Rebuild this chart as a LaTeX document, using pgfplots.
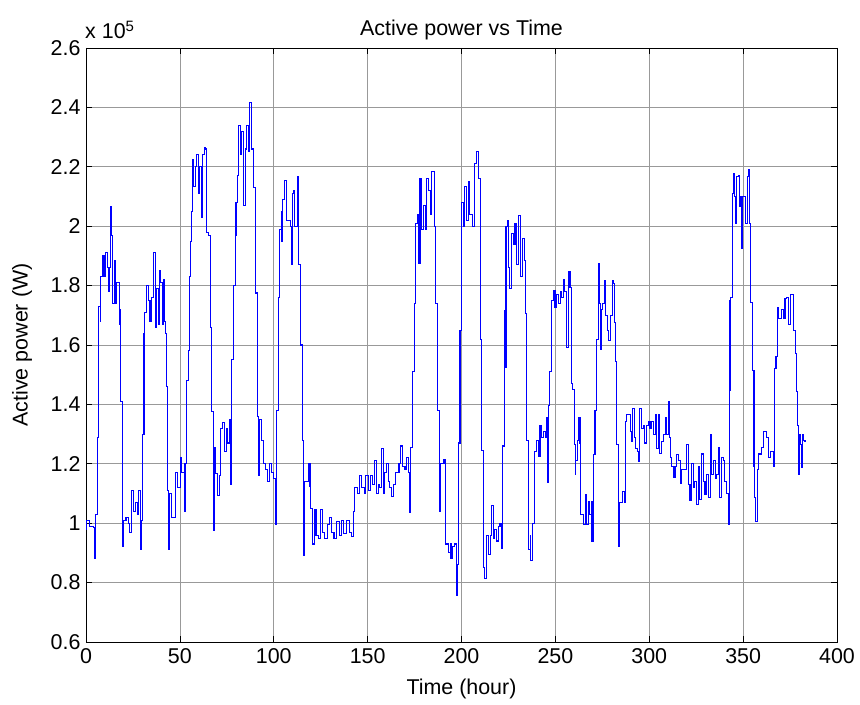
\documentclass[border=0pt]{standalone}
\usepackage{fontspec}
\setmainfont{Liberation Sans}
\usepackage{pgfplots}
\pgfplotsset{compat=1.18}
\pgfplotstableread{
x y
0.0 0.98
0.4 1.01
2.1 0.99
3.9 0.985
4.8 0.88
5.3 1.03
6.0 1.29
6.9 1.73
7.5 1.68
7.8 1.83
8.7 1.90
9.6 1.83
10.5 1.91
11.4 1.86
11.9 1.78
12.4 1.86
13.3 2.065
13.8 1.97
14.2 1.74
15.1 1.885
15.8 1.74
16.3 1.81
17.6 1.72
18.1 1.67
18.5 1.41
19.2 1.14
19.5 0.92
20.1 1.01
21.3 1.02
22.5 1.0
23.4 0.97
24.0 1.11
25.2 1.04
26.5 1.07
27.3 1.03
28.2 1.11
29.1 0.91
29.5 1.01
30.0 1.30
30.9 1.64
31.4 1.71
32.3 1.80
33.2 1.75
34.1 1.68
35.0 1.76
35.9 1.91
36.8 1.66
37.6 1.79
38.5 1.67
39.1 1.85
39.9 1.81
40.5 1.67
41.2 1.82
41.7 1.68
42.4 1.64
42.8 1.46
43.3 1.11
43.9 0.91
44.4 1.10
45.6 1.02
47.4 1.02
47.9 1.17
48.8 1.12
50.1 1.22
51.0 1.17
52.3 1.2
52.7 1.04
53.1 1.2
53.6 1.48
54.5 1.58
55.0 1.83
55.6 1.95
56.3 2.05
56.8 2.225
57.5 2.135
58.2 2.20
58.9 2.24
59.8 2.11
60.7 2.20
61.4 2.03
62.2 2.24
62.9 2.265
63.9 2.26
64.3 1.98
65.2 1.97
66.1 1.66
67.0 1.375
67.8 0.975
68.3 1.256
69.2 1.166
69.9 1.093
71.0 1.16
71.7 1.32
72.8 1.34
73.7 1.24
74.6 1.32
75.5 1.27
76.7 1.35
77.1 1.13
77.6 1.55
78.5 1.80
79.4 1.97
79.9 2.08
80.6 2.17
81.4 2.34
82.3 2.24
83.0 2.32
83.8 2.07
84.7 2.26
85.5 2.34
86.4 2.25
87.3 2.417
88.0 2.26
89.1 2.13
90.2 1.775
91.3 1.36
91.8 1.16
92.3 1.35
93.6 1.28
94.5 1.2
95.7 1.18
96.6 1.14
97.6 1.2
98.8 1.17
100.1 1.15
100.8 0.997
101.5 1.38
102.4 1.76
103.3 1.99
103.9 2.05
104.4 1.95
104.9 2.09
105.6 2.155
106.5 2.155
106.9 2.02
107.8 2.02
108.7 2.0
109.4 1.87
109.9 2.11
110.5 2.12
111.0 2.0
111.8 2.0
112.5 2.166
113.0 1.87
114.3 1.60
115.2 1.28
115.7 0.89
116.3 1.14
117.5 1.14
118.4 1.2
119.3 1.125
119.8 1.05
120.6 0.93
121.5 1.045
122.5 0.96
123.8 0.95
125.0 1.045
126.1 0.97
127.2 0.95
128.5 0.995
129.6 1.02
130.8 0.97
132.1 0.95
133.5 1.006
134.9 0.96
136.2 1.01
137.4 0.966
138.9 1.01
140.1 0.97
141.5 0.955
142.3 1.04
143.2 1.12
144.5 1.1
145.6 1.16
146.8 1.12
148.1 1.1
149.1 1.16
150.4 1.11
151.6 1.16
152.7 1.13
153.8 1.21
154.5 1.1
155.7 1.13
156.5 1.12
157.4 1.25
158.3 1.10
159.2 1.17
160.1 1.2
161.0 1.14
161.9 1.12
162.8 1.09
163.7 1.13
164.6 1.17
165.8 1.17
166.7 1.2
167.6 1.26
168.7 1.19
169.9 1.18
170.8 1.22
171.8 1.17
172.5 1.036
172.9 1.256
173.8 1.51
174.9 1.74
175.7 2.01
176.5 2.04
177.0 1.875
177.9 2.16
178.8 1.99
179.7 2.07
180.6 1.99
181.5 2.16
182.4 2.12
183.3 2.04
184.1 2.185
185.4 2.0
186.3 1.74
187.1 1.38
188.2 1.04
189.0 1.2
190.3 1.216
191.2 1.2
191.6 0.93
193.0 0.90
193.9 0.93
194.4 0.88
195.3 0.92
196.4 0.93
197.1 0.755
197.8 0.86
198.3 1.27
199.2 1.65
200.1 2.08
201.0 2.0
201.8 2.135
202.7 2.02
203.6 2.15
204.5 2.04
205.9 2.0
206.8 2.21
208.1 2.253
209.0 2.16
209.9 2.04
210.2 1.62
210.9 1.245
211.6 0.85
212.5 0.815
213.1 0.957
214.3 0.895
215.2 0.96
216.0 1.06
216.9 0.95
217.8 0.98
218.7 0.94
219.6 0.99
220.5 1.0
221.4 0.915
221.9 1.26
222.8 1.716
223.2 1.525
223.7 2.0
224.4 2.02
225.1 1.86
225.8 1.79
226.7 1.975
227.6 1.94
228.5 2.01
229.4 1.87
230.3 2.037
231.1 2.037
231.6 1.83
232.5 1.96
233.4 1.885
234.1 1.705
234.7 1.28
235.6 0.91
236.5 0.96
237.0 0.876
237.7 1.0
238.8 1.24
240.0 1.28
240.9 1.226
241.8 1.33
242.7 1.29
243.6 1.31
244.5 1.29
245.4 1.355
245.8 1.136
246.4 1.395
247.1 1.51
248.0 1.75
248.9 1.784
249.8 1.727
250.7 1.77
251.6 1.74
252.5 1.78
253.3 1.76
254.2 1.82
255.1 1.78
256.0 1.59
256.9 1.846
257.8 1.795
258.4 1.47
259.1 1.45
260.0 1.265
260.5 1.164
260.9 1.21
261.6 1.277
262.4 1.355
263.1 1.27
263.6 1.03
264.0 1.03
264.9 0.995
265.8 1.096
266.7 0.995
267.6 1.073
268.4 1.03
269.0 1.073
269.5 0.94
270.2 1.23
271.1 1.378
272.0 1.62
272.9 1.873
273.3 1.74
273.8 1.586
274.3 1.72
275.2 1.74
276.4 1.817
276.9 1.70
277.8 1.65
278.5 1.614
279.4 1.70
280.3 1.817
280.9 1.806
281.4 1.676
282.1 1.546
282.6 1.265
283.5 0.92
284.1 1.07
285.0 1.07
285.9 1.107
286.8 1.07
287.3 1.344
288.0 1.366
288.9 1.366
289.8 1.31
290.7 1.276
291.1 1.387
292.0 1.29
292.9 1.253
293.6 1.24
294.3 1.208
295.0 1.387
295.9 1.32
296.8 1.33
297.7 1.27
298.6 1.33
299.5 1.344
300.4 1.32
301.3 1.344
302.2 1.30
303.1 1.366
304.0 1.253
304.9 1.366
305.7 1.236
306.6 1.276
307.5 1.30
308.4 1.355
309.3 1.30
310.0 1.41
310.7 1.29
311.4 1.22
312.1 1.19
312.8 1.153
313.7 1.19
314.6 1.23
315.5 1.21
316.4 1.135
317.3 1.18
318.2 1.18
319.6 1.18
320.0 1.266
320.8 1.13
321.7 1.075
322.6 1.2
323.5 1.12
324.3 1.14
325.2 1.064
326.1 1.19
327.0 1.08
327.9 1.233
328.8 1.14
329.7 1.098
330.6 1.165
331.5 1.086
332.4 1.30
333.3 1.165
334.2 1.21
335.1 1.15
336.0 1.165
336.8 1.255
337.6 1.086
338.5 1.22
339.4 1.21
340.3 1.14
341.2 1.10
342.1 0.996
342.5 1.446
343.0 1.75
343.5 1.76
344.1 2.11
344.8 2.178
345.3 2.1
345.9 2.01
346.6 2.166
347.5 2.17
348.0 2.065
348.7 2.1
349.3 1.924
349.8 2.1
350.5 2.1
351.1 2.01
351.8 2.01
352.4 2.166
353.1 2.19
353.6 2.01
354.0 1.744
354.9 1.514
355.8 1.19
356.3 1.086
356.8 1.007
357.4 1.18
358.1 1.233
359.0 1.233
359.9 1.255
360.8 1.31
361.7 1.31
362.6 1.29
363.5 1.22
364.4 1.24
365.3 1.24
366.0 1.19
366.6 1.52
367.5 1.56
368.2 1.727
368.7 1.69
369.6 1.69
370.5 1.72
371.4 1.69
372.3 1.755
373.2 1.76
374.1 1.67
375.0 1.77
375.9 1.77
376.8 1.65
377.7 1.57
378.2 1.445
378.9 1.33
379.4 1.163
379.9 1.3
380.6 1.265
381.1 1.186
381.5 1.3
382.0 1.28
382.9 1.276
383.4 1.28
}\powerdata
\begin{document}
\begin{tikzpicture}
\begin{axis}[
  scale only axis,
  width=751bp, height=594bp,
  xmin=0, xmax=400, ymin=0.6, ymax=2.6,
  xtick={0,50,100,150,200,250,300,350,400},
  ytick={0.6,0.8,1,1.2,1.4,1.6,1.8,2,2.2,2.4,2.6},
  scaled y ticks=false,
  /pgf/number format/assume math mode=true,
  tick label style={font=\fontsize{21.5}{24}\selectfont},
  label style={font=\fontsize{21.5}{24}\selectfont},
  title style={font=\fontsize{21.5}{24}\selectfont, at={(axis description cs:0.5,1)}, anchor=center, yshift=12bp},
  title={Active power vs Time},
  xlabel={Time (hour)},
  xlabel style={at={(axis description cs:0.5,0)}, anchor=center, yshift=-47bp},
  tick align=inside,
  major tick length=6bp,
  grid=major,
  major grid style={draw=black!40, line width=0.6bp},
  axis line style={black, line width=0.9bp},
  tick style={black, line width=0.7bp},
  xticklabel style={yshift=-3bp},
  yticklabel style={xshift=-2bp},
]
\addplot[const plot, draw={rgb,255:red,0;green,0;blue,255}, line width=1.05bp, mark=none] table[x=x,y=y] {\powerdata};
\end{axis}
\node[rotate=90, anchor=center, font=\fontsize{21.5}{24}\selectfont] at ([xshift=-64bp]current axis.west) {Active power (W)};
\node[anchor=base west, font=\fontsize{21.5}{24}\selectfont, inner sep=0pt] at ([xshift=-1bp,yshift=9bp]current axis.north west) {x 10\textsuperscript{5}};
\path[use as bounding box] ([xshift=-86bp,yshift=-63bp]current axis.south west) rectangle ([xshift=23bp,yshift=48bp]current axis.north east);
\end{tikzpicture}
\end{document}
